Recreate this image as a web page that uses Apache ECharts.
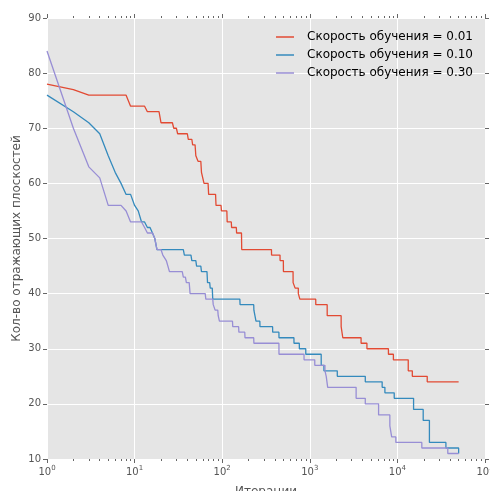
<!DOCTYPE html>
<html>
<head>
  <meta charset="utf-8">
  <title>lr chart</title>
  <script src="https://cdn.jsdelivr.net/npm/echarts@6/dist/echarts.min.js"></script>
  <style>
    html, body { margin: 0; padding: 0; background: #fff; }
    #main { width: 490px; height: 491px; }
  </style>
</head>
<body>
  <div id="main"></div>
  <script type="text/javascript">
    // values: iteration where the value changes -> new value
    var seriesNames = ['Скорость обучения = 0.01', 'Скорость обучения = 0.10', 'Скорость обучения = 0.30'];
    var lastIter = 50000;

    var redStart = 78;
    var redIter = [2, 3, 9, 14, 20, 28, 31, 41, 46, 50, 53, 58, 62, 70, 85, 98, 114, 128, 146, 167,
                   366, 458, 500, 645, 680, 740, 770, 1170, 1580, 2280, 2380, 3850, 4490, 7900, 9000, 13300, 14800, 21900];
    var redVal  = [77, 76, 74, 73, 71, 70, 69, 68, 67, 65, 64, 62, 60, 58, 56, 55, 53, 52, 51, 48,
                   47, 46, 44, 42, 41, 40, 39, 38, 36, 34, 32, 31, 30, 29, 28, 26, 25, 24];

    var blueStart = 76;
    var blueIter = [2, 3, 4, 5, 6, 7, 8, 10, 11, 12, 14, 16, 17, 18, 37, 45, 51, 58, 68, 73, 78,
                    160, 230, 243, 270, 377, 445, 660, 760, 900, 1350, 1450, 2060, 4300, 6700, 7200, 9200,
                    15300, 19700, 23200, 35800, 50000];
    var blueVal  = [73, 71, 69, 65, 62, 60, 58, 56, 55, 53, 52, 51, 50, 48, 47, 46, 45, 44, 42, 41, 39,
                    38, 37, 35, 34, 33, 32, 31, 30, 29, 27, 26, 25, 24, 23, 22, 21,
                    19, 17, 13, 12, 11];

    var purpleStart = 84;
    var purpleIter = [2, 3, 4, 5, 8, 9, 13, 14, 17, 18, 21, 23, 24, 25, 36, 39, 43, 65, 79, 83, 90, 93,
                      132, 155, 182, 230, 445, 860, 1140, 1490, 1540, 1600, 3380, 4300, 6100, 8200, 8600, 9600,
                      19000, 37600];
    var purpleVal  = [70, 63, 61, 56, 55, 53, 52, 51, 50, 48, 47, 46, 45, 44, 43, 42, 40, 39, 38, 37, 36, 35,
                      34, 33, 32, 31, 29, 28, 27, 26, 25, 23, 21, 20, 18, 16, 14, 13,
                      12, 11];

    var colors = ['#E24A33', '#348ABD', '#988ED5'];

    // one point per iteration is recorded, so a change at n goes from (n-1, old) to (n, new)
    function build(start, iters, vals) {
      var pts = [[1, start]];
      var prev = start;
      for (var i = 0; i < iters.length; i++) {
        pts.push([iters[i] - 1, prev]);
        pts.push([iters[i], vals[i]]);
        prev = vals[i];
      }
      pts.push([lastIter, prev]);
      return pts;
    }

    var majorX = [1, 10, 100, 1000, 10000, 100000];
    var minorX = [];
    for (var d = 1; d < 100000; d *= 10) {
      for (var m = 2; m <= 9; m++) minorX.push(m * d);
    }

    var font = 'DejaVu Sans';
    var tickCol = '#666';

    function xAx(pos, vals, len, labels) {
      return {
        type: 'log', logBase: 10, min: 1, max: 100000, position: pos,
        axisLine: { show: false },
        axisTick: { show: true, inside: false, length: len, customValues: vals,
                    lineStyle: { color: tickCol, width: 1 } },
        axisLabel: labels ? {
          show: true, customValues: majorX, margin: 6,
          color: '#555', fontFamily: font, fontSize: 10,
          formatter: function (v) { return '10{sup|' + Math.round(Math.log10(v)) + '}'; },
          rich: { sup: { fontSize: 7, fontFamily: font, color: '#555', padding: [0, 0, 7, 0] } }
        } : { show: false },
        splitLine: { show: labels, lineStyle: { color: '#fff', width: 1 } },
        name: labels ? 'Итерации' : '',
        nameLocation: 'middle', nameGap: 27,
        nameTextStyle: { color: '#555', fontFamily: font, fontSize: 12 }
      };
    }

    function yAx(pos, labels) {
      return {
        type: 'value', min: 10, max: 90, interval: 10, position: pos,
        axisLine: { show: false },
        axisTick: { show: true, length: 4, lineStyle: { color: tickCol, width: 1 } },
        axisLabel: { show: labels, color: '#555', fontFamily: font, fontSize: 10, margin: 6 },
        splitLine: { show: labels, lineStyle: { color: '#fff', width: 1 } },
        name: labels ? 'Кол-во отражающих плоскостей' : '',
        nameLocation: 'middle', nameGap: 24, nameRotate: 90, nameMoveOverlap: false,
        nameTextStyle: { color: '#555', fontFamily: font, fontSize: 12 }
      };
    }

    var chart = echarts.init(document.getElementById('main'), null, { renderer: 'canvas' });
    var option = {
      animation: false,
      backgroundColor: '#fff',
      grid: { left: 47, right: 5, top: 18, bottom: 32, show: true, backgroundColor: '#E5E5E5', borderWidth: 0,
              outerBoundsMode: 'none', containLabel: false },
      legend: {
        data: seriesNames, orient: 'vertical', right: 12, top: 26,
        icon: 'rect', itemWidth: 18, itemHeight: 1.5, itemGap: 6,
        textStyle: { color: '#000', fontFamily: font, fontSize: 12, padding: [0, 0, 0, 8] }
      },
      xAxis: [
        xAx('bottom', majorX, 4, true),
        xAx('bottom', minorX, 2, false),
        xAx('top', majorX, 4, false),
        xAx('top', minorX, 2, false)
      ],
      yAxis: [yAx('left', true), yAx('right', false)],
      series: [
        { name: seriesNames[0], data: build(redStart, redIter, redVal), color: colors[0] },
        { name: seriesNames[1], data: build(blueStart, blueIter, blueVal), color: colors[1] },
        { name: seriesNames[2], data: build(purpleStart, purpleIter, purpleVal), color: colors[2] }
      ].map(function (s) {
        return {
          name: s.name, type: 'line', data: s.data, showSymbol: false, symbol: 'none',
          itemStyle: { color: s.color },
          lineStyle: { color: s.color, width: 1.3 }
        };
      })
    };
    chart.setOption(option);
  </script>
</body>
</html>
